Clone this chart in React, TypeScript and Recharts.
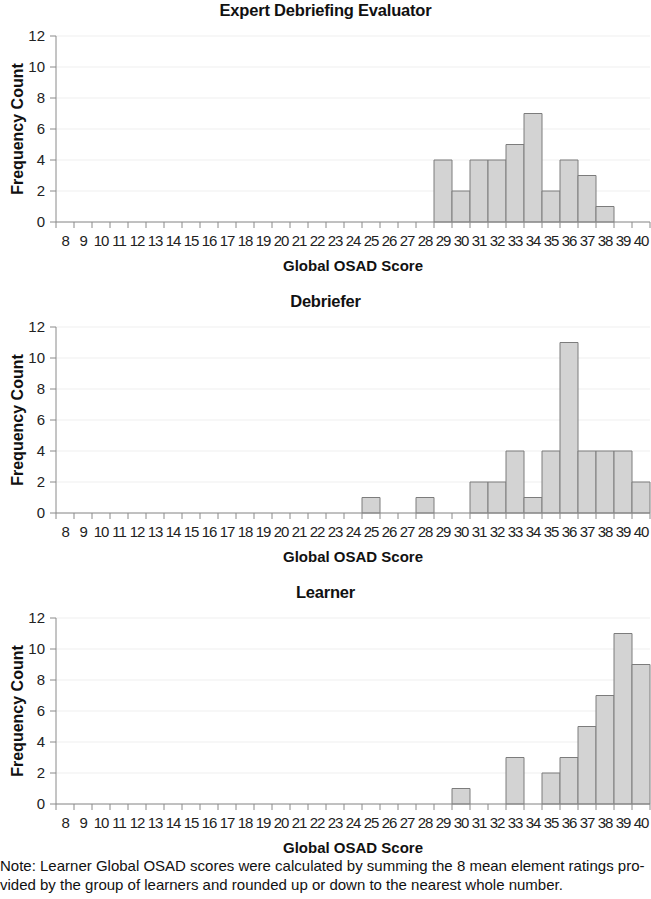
import { BarChart, Bar, XAxis, YAxis, CartesianGrid } from "recharts";

const scores = [8, 9, 10, 11, 12, 13, 14, 15, 16, 17, 18, 19, 20, 21, 22, 23, 24, 25, 26, 27, 28, 29, 30, 31, 32, 33, 34, 35, 36, 37, 38, 39, 40];

// frequency per score, 8..40
const expertCounts = [0, 0, 0, 0, 0, 0, 0, 0, 0, 0, 0, 0, 0, 0, 0, 0, 0, 0, 0, 0, 0, 4, 2, 4, 4, 5, 7, 2, 4, 3, 1, 0, 0];
const debrieferCounts = [0, 0, 0, 0, 0, 0, 0, 0, 0, 0, 0, 0, 0, 0, 0, 0, 0, 1, 0, 0, 1, 0, 0, 2, 2, 4, 1, 4, 11, 4, 4, 4, 2];
const learnerCounts = [0, 0, 0, 0, 0, 0, 0, 0, 0, 0, 0, 0, 0, 0, 0, 0, 0, 0, 0, 0, 0, 0, 1, 0, 0, 3, 0, 2, 3, 5, 7, 11, 9];

const yTicks = [0, 2, 4, 6, 8, 10, 12];

const FONT = '"Liberation Sans", Arial, sans-serif';
const AXIS = "#8a8a8a";

const panels = [
  { title: "Expert Debriefing Evaluator", counts: expertCounts, top: 0 },
  { title: "Debriefer", counts: debrieferCounts, top: 291 },
  { title: "Learner", counts: learnerCounts, top: 582 },
];

// labels sit under the bars, tick marks sit on the bin edges (Excel style)
const EdgeTick = (props: any) => {
  const { x, y, payload } = props;
  const half = payload.offset || 0;
  const isLast = payload.value === scores[scores.length - 1];
  return (
    <g>
      <line x1={x - half} x2={x - half} y1={y} y2={y + 6} stroke={AXIS} />
      {isLast && <line x1={x + half} x2={x + half} y1={y} y2={y + 6} stroke={AXIS} />}
      <text x={x} y={y + 18} textAnchor="middle" dominantBaseline="central" fill="#222" fontSize={15} letterSpacing={-1.1} fontFamily={FONT}>
        {payload.value}
      </text>
    </g>
  );
};

const Panel = ({ title, counts, top }: { title: string; counts: number[]; top: number }) => {
  const data = scores.map((s, i) => ({ score: s, count: counts[i] }));
  return (
    <div style={{ position: "absolute", left: 0, top, width: 651, height: 275 }}>
      <div style={{ position: "absolute", left: 0, top: 0, width: 651, textAlign: "center", fontFamily: FONT, fontWeight: "bold", fontSize: 16.5, lineHeight: "20px", color: "#111", letterSpacing: -0.2 }}>
        {title}
      </div>
      <BarChart width={651} height={275} data={data} margin={{ top: 36, right: 1, left: 0, bottom: 0 }} barCategoryGap={0} barGap={0}>
        <CartesianGrid vertical={false} stroke="#efefef" />
        <XAxis
          dataKey="score"
          interval={0}
          height={53}
          stroke={AXIS}
          tickLine={false}
          tickSize={0}
          tickMargin={0}
          tick={<EdgeTick />}
          label={{ value: "Global OSAD Score", position: "insideBottom", offset: 4, fill: "#111", fontSize: 15, fontWeight: "bold", fontFamily: FONT }}
        />
        <YAxis
          domain={[0, 12]}
          ticks={yTicks}
          width={56}
          stroke={AXIS}
          tickSize={6}
          tickMargin={5}
          tick={{ fill: "#222", fontSize: 15, fontFamily: FONT }}
          label={{ value: "Frequency Count", angle: -90, position: "center", dx: -11, fill: "#111", fontSize: 16, fontWeight: "bold", fontFamily: FONT }}
        />
        <Bar dataKey="count" fill="#d3d3d3" stroke="#7c7c7c" strokeWidth={1} isAnimationActive={false} />
      </BarChart>
    </div>
  );
};

export default function App() {
  return (
    <div style={{ position: "absolute", left: 0, top: 0, width: 651, height: 899, background: "#fff" }}>
      {panels.map((p) => (
        <Panel key={p.title} title={p.title} counts={p.counts} top={p.top} />
      ))}
      <div style={{ position: "absolute", left: 0, top: 856, width: 651, fontFamily: FONT, fontSize: 15, lineHeight: "19px", color: "#111", whiteSpace: "nowrap" }}>
        Note: Learner Global OSAD scores were calculated by summing the 8 mean element ratings pro-
        <br />
        vided by the group of learners and rounded up or down to the nearest whole number.
      </div>
    </div>
  );
}
